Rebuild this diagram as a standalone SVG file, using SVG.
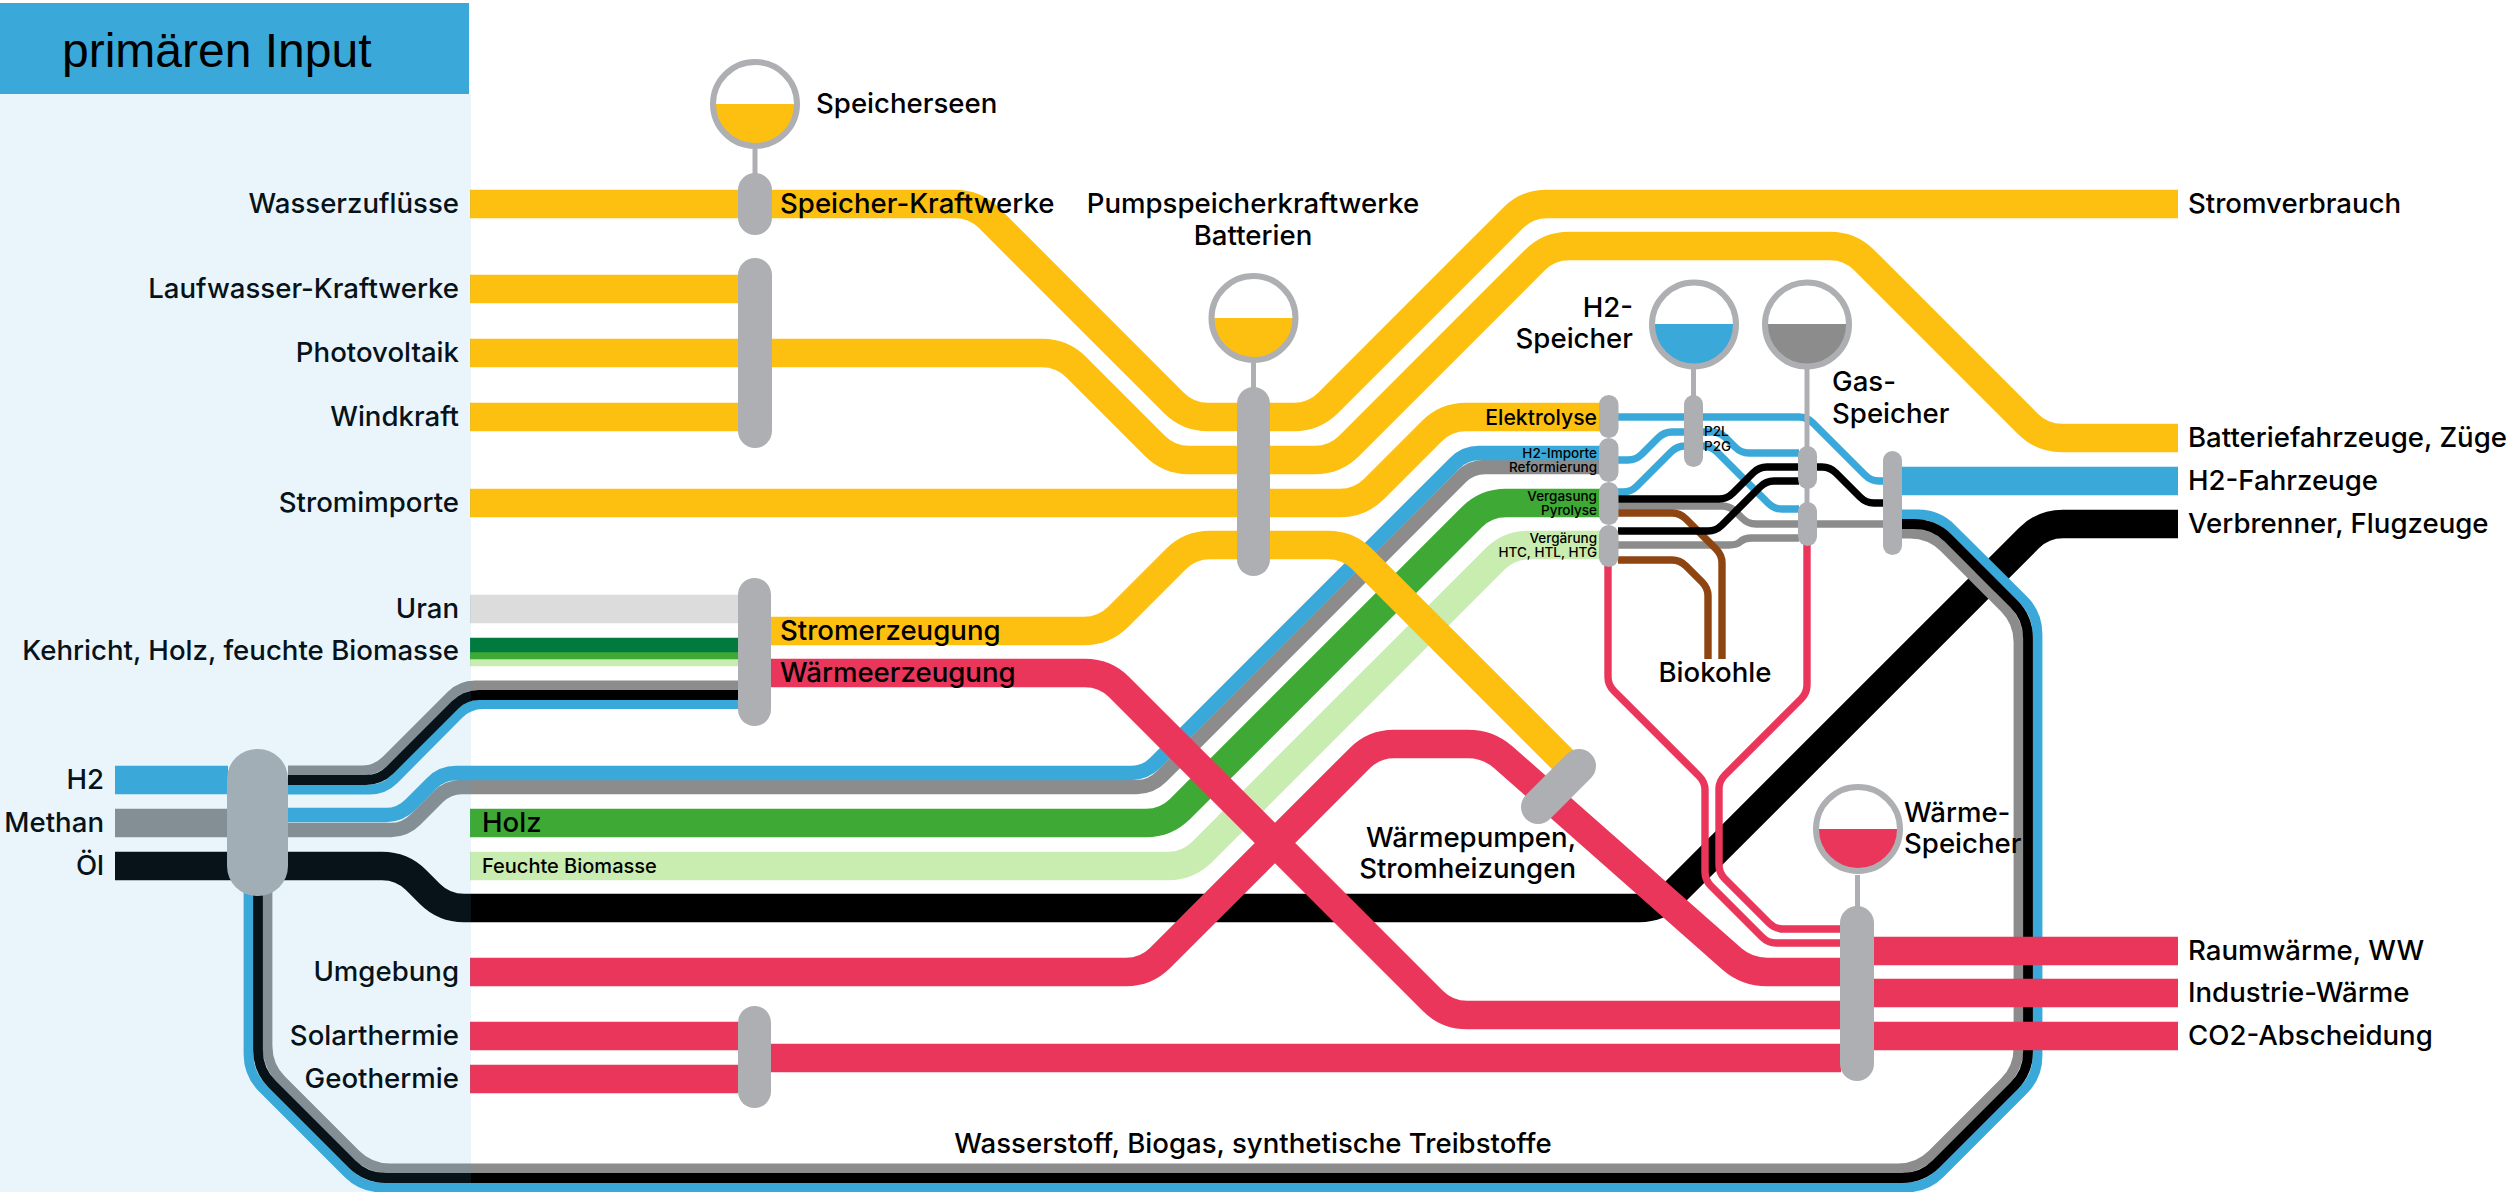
<svg xmlns="http://www.w3.org/2000/svg" width="2506" height="1192" viewBox="0 0 2506 1192">
<style>
text{font-family:"Inter","Liberation Sans",sans-serif;font-weight:500;font-size:27.6px;fill:#000}
.r{text-anchor:end}
.c{text-anchor:middle}
.s{font-size:13.5px}
.m{font-size:20px}
.e{font-size:21.2px}
.l{fill:none;stroke-linejoin:round}
.b{stroke-width:28.6}
.h{stroke-width:14.4}
.t{stroke-width:9.8}
.f{stroke-width:7.4}
.y{stroke:#fdc010}.bl{stroke:#3aa9d9}.gy{stroke:#8c8c8c}.k{stroke:#000}.rd{stroke:#e9365a}.g{stroke:#3fa935}.lg{stroke:#c9ecb1}.br{stroke:#8f4512}.u{stroke:#dcdcdc}.dg{stroke:#007a3d}
.n{fill:#aeafb2}
.o{fill:none;stroke:#aeafb2;stroke-width:6}
.st{stroke:#aeafb2;stroke-width:5;fill:none}
</style>
<rect id="header" x="0" y="3" width="469" height="91" fill="#3aa9d9"/>
<text x="62" y="67" style="font-family:'Liberation Sans',sans-serif;font-weight:400;font-size:48px">primären Input</text>
<g id="connectors">
<path class="l b u" d="M470,609H738"/>
<path class="l lg" stroke-width="7.4" d="M470,662.5H738"/>
<path class="l g" stroke-width="7.4" d="M470,655.5H738"/>
<path class="l dg" stroke-width="14.4" d="M470,645H738"/>
<path class="l b lg" d="M470,866H1168Q1188,866 1202,852L1495,559Q1509,545 1529,545H1600"/>
<path class="l b g" d="M470,823H1146Q1166,823 1180,809L1472,517Q1486,503 1506,503H1600"/>
<path class="l h gy" d="M288,830H391Q405,830 415,820L438,797Q448,787 462,787H1137Q1151,787 1161,777L1461,477Q1471,467 1485,467H1600"/>
<path class="l h bl" d="M288,815H386Q400,815 410,805L432,783Q442,773 456,773H1131Q1145,773 1155,763L1455,463Q1465,453 1479,453H1600"/>
<path class="l b k" d="M115,866H382Q402,866 416,880L430,894Q444,908 464,908H1639Q1659,908 1673,894L2029,538Q2043,524 2063,524H2178"/>
<path class="l b bl" d="M115,780H228"/>
<path class="l b gy" d="M115,823H228"/>
<path class="l t gy" d="M288,770.5H362Q376,770.5 386,760.5L451,695.5Q461,685.5 475,685.5H740"/>
<path class="l t bl" d="M288,789.5H370Q384,789.5 394,779.5L459,714Q469,704 483,704H740"/>
<path class="l t k" d="M288,780H366Q380,780 390,770L455,705Q465,695 479,695H740"/>
<path class="l t bl" d="M248.5,890V1054Q248.5,1074 262.5,1088L348,1173.5Q362,1187.5 382,1187.5H1906Q1926,1187.5 1940,1173.5L2023.5,1090Q2037.5,1076 2037.5,1056V634Q2037.5,614 2023.5,600L1952,529Q1938,514.5 1918,514.5H1900"/>
<path class="l t gy" d="M267.5,890V1046Q267.5,1066 281.5,1080L356,1154.5Q370,1168.5 390,1168.5H1898Q1918,1168.5 1932,1154.5L2004.5,1082Q2018.5,1068 2018.5,1048V642Q2018.5,622 2004.5,608L1944,547.5Q1930,533.5 1910,533.5H1900"/>
<path class="l t k" d="M258,890V1050Q258,1070 272,1084L352,1164Q366,1178 386,1178H1902Q1922,1178 1936,1164L2014,1086Q2028,1072 2028,1052V638Q2028,618 2014,604L1948,538Q1934,524 1914,524H1900"/>
<path class="l b y" d="M470,204H955Q975,204 989,218L1174,403Q1188,417 1208,417H1294Q1314,417 1328,403L1513,218Q1527,204 1547,204H2178"/>
<path class="l b y" d="M470,289H738M470,417H738"/>
<path class="l b y" d="M470,353H1042Q1062,353 1076,367L1155,446Q1169,460 1189,460H1315Q1335,460 1349,446L1535,260Q1549,246 1569,246H1830Q1850,246 1864,260L2028,424Q2042,438 2062,438H2178"/>
<path class="l b y" d="M470,503H1340Q1360,503 1374,489L1432,431Q1446,417 1466,417H1600"/>
<path class="l b rd" d="M771,673H1085Q1105,673 1119,687L1433,1001Q1447,1015 1467,1015H1841"/>
<path class="l b rd" d="M470,972H1126Q1146,972 1160,958L1360,758Q1374,744 1394,744H1468Q1488,744 1503,757L1732,959Q1747,972 1767,972H1841"/>
<path class="l b y" d="M771,631H1084Q1104,631 1118,617L1176,559Q1190,545 1210,545H1328Q1348,545 1362,559L1574,771"/>
<path class="l b rd" d="M470,1036H738M470,1079H738M771,1058H1841M1873,951H2178M1873,993H2178M1873,1036H2178"/>
<path class="l b bl" d="M1902,481H2178"/>
<path class="l f gy" d="M1618,506H1722Q1730,506 1736,512L1742,518Q1748,524 1756,524H1884"/>
<path class="l f gy" d="M1618,545H1729Q1737,545 1740,542Q1744,538 1752,538H1799"/>
<path class="l f br" d="M1618,513H1672Q1680,513 1686,519L1716,549Q1722,555 1722,563V659"/>
<path class="l f br" d="M1618,560H1672Q1680,560 1686,566L1702,582Q1708,588 1708,596V659"/>
<path class="l f bl" d="M1618,417H1799Q1807,417 1813,423L1865,475Q1871,481 1879,481H1884"/>
<path class="l f bl" d="M1618,460H1628Q1636,460 1642,454L1658,438Q1664,432 1672,432H1712Q1720,432 1726,438L1735,447Q1741,453 1749,453H1799"/>
<path class="l f bl" d="M1618,492H1623Q1631,492 1637,486L1671,452Q1677,446 1685,446H1703Q1711,446 1717,452L1768,503Q1774,509 1782,509H1799"/>
<path class="l f k" d="M1618,499H1719Q1727,499 1733,493L1753,473Q1759,467 1767,467H1822Q1830,467 1836,473L1860,497Q1866,503 1874,503H1884"/>
<path class="l f k" d="M1618,531H1708Q1716,531 1722,525L1760,487Q1766,481 1774,481H1799"/>
<path class="l f rd" d="M1608,565V677Q1608,685 1614,691L1699,776Q1705,782 1705,790V872Q1705,880 1711,886L1762,937Q1768,943 1776,943H1841"/>
<path class="l f rd" d="M1807,544V685Q1807,693 1801,699L1725,775Q1719,781 1719,789V865Q1719,873 1725,879L1769,923Q1775,929 1783,929H1841"/>
</g>
<g id="speicherseen"><path class="st" d="M755,149V175"/><path fill="#fdc010" d="M713,104A42,42 0 0 0 797,104Z"/><circle class="o" cx="755" cy="104" r="42"/><rect class="n" x="738" y="173" width="34" height="62" rx="17"/><text x="816" y="113">Speicherseen</text></g>
<g id="sammel-strom"><rect class="n" x="738" y="258" width="34" height="190" rx="17"/></g>
<g id="thermisch"><rect class="n" x="738" y="578" width="33" height="148" rx="16.5"/></g>
<g id="solar"><rect class="n" x="738" y="1006" width="33" height="102" rx="16.5"/></g>
<g id="fossil"><rect class="n" x="227" y="749" width="61" height="147" rx="30"/></g>
<g id="pumpspeicher"><path class="st" d="M1253.5,363V390"/><path fill="#fdc010" d="M1211.5,318A42,42 0 0 0 1295.5,318Z"/><circle class="o" cx="1253.5" cy="318" r="42"/><rect class="n" x="1237" y="387" width="33" height="189" rx="16.5"/><text class="c" x="1253" y="213">Pumpspeicherkraftwerke</text><text class="c" x="1253" y="245">Batterien</text></g>
<g id="waermepumpe"><path d="M1538,807L1579,766" stroke="#aeafb2" stroke-width="34" stroke-linecap="round" fill="none"/><text class="r" x="1576" y="847">Wärmepumpen,</text><text class="r" x="1576" y="878">Stromheizungen</text></g>
<g id="konversion"><rect class="n" x="1599" y="395" width="19.5" height="43" rx="9.7"/><rect class="n" x="1599" y="438" width="19.5" height="44" rx="9.7"/><rect class="n" x="1599" y="482" width="19.5" height="43" rx="9.7"/><rect class="n" x="1599" y="525" width="19.5" height="42" rx="9.7"/></g>
<g id="h2-speicher"><path class="st" d="M1693.5,369V397"/><path fill="#3aa9d9" d="M1652,324A42,42 0 0 0 1736,324Z"/><circle class="o" cx="1694" cy="324.5" r="42"/><rect class="n" x="1684" y="395" width="19" height="72" rx="9.5"/><text class="r" x="1633" y="317">H2-</text><text class="r" x="1633" y="348">Speicher</text></g>
<g id="gas-speicher"><path class="st" d="M1807,369V505"/><path fill="#8c8c8c" d="M1765,324A42,42 0 0 0 1849,324Z"/><circle class="o" cx="1807" cy="324.5" r="42"/><rect class="n" x="1798" y="446" width="19" height="43" rx="9.5"/><rect class="n" x="1798" y="502" width="19" height="44" rx="9.5"/><text x="1832" y="391">Gas-</text><text x="1832" y="423">Speicher</text></g>
<g id="verteiler"><rect class="n" x="1883" y="451" width="19" height="104" rx="9.5"/></g>
<g id="waerme-speicher"><path class="st" d="M1857.5,875V908"/><path fill="#e9365a" d="M1816,829A42,42 0 0 0 1900,829Z"/><circle class="o" cx="1858" cy="829" r="42"/><rect class="n" x="1840" y="906" width="34" height="175" rx="17"/><text x="1904" y="822">Wärme-</text><text x="1904" y="853">Speicher</text></g>
<g id="labels">
<text class="r" x="459" y="213">Wasserzuflüsse</text>
<text class="r" x="459" y="298">Laufwasser-Kraftwerke</text>
<text class="r" x="459" y="362">Photovoltaik</text>
<text class="r" x="459" y="426">Windkraft</text>
<text class="r" x="459" y="512">Stromimporte</text>
<text class="r" x="459" y="618">Uran</text>
<text class="r" x="459" y="660">Kehricht, Holz, feuchte Biomasse</text>
<text class="r" x="104" y="789">H2</text>
<text class="r" x="104" y="832">Methan</text>
<text class="r" x="104" y="875">Öl</text>
<text class="r" x="459" y="981">Umgebung</text>
<text class="r" x="459" y="1045">Solarthermie</text>
<text class="r" x="459" y="1088">Geothermie</text>
<text x="780" y="213">Speicher-Kraftwerke</text>
<text x="780" y="640">Stromerzeugung</text>
<text x="780" y="682">Wärmeerzeugung</text>
<text x="482" y="832">Holz</text>
<text x="482" y="873" class="m">Feuchte Biomasse</text>
<text class="r e" x="1597" y="425">Elektrolyse</text>
<text class="r s" x="1597" y="458">H2-Importe</text>
<text class="r s" x="1597" y="472">Reformierung</text>
<text class="r s" x="1597" y="501">Vergasung</text>
<text class="r s" x="1597" y="515">Pyrolyse</text>
<text class="r s" x="1597" y="543">Vergärung</text>
<text class="r s" x="1597" y="557">HTC, HTL, HTG</text>
<text class="s" x="1704" y="436">P2L</text>
<text class="s" x="1704" y="451">P2G</text>
<text class="c" x="1715" y="682">Biokohle</text>
<text x="2188" y="213">Stromverbrauch</text>
<text x="2188" y="447">Batteriefahrzeuge, Züge</text>
<text x="2188" y="490">H2-Fahrzeuge</text>
<text x="2188" y="533">Verbrenner, Flugzeuge</text>
<text x="2188" y="960">Raumwärme, WW</text>
<text x="2188" y="1002">Industrie-Wärme</text>
<text x="2188" y="1045">CO2-Abscheidung</text>
<text class="c" x="1253" y="1153">Wasserstoff, Biogas, synthetische Treibstoffe</text>
</g>
<rect id="input-panel" x="0" y="94" width="471" height="1098" fill="#3aa9d9" opacity="0.115"/>
</svg>
